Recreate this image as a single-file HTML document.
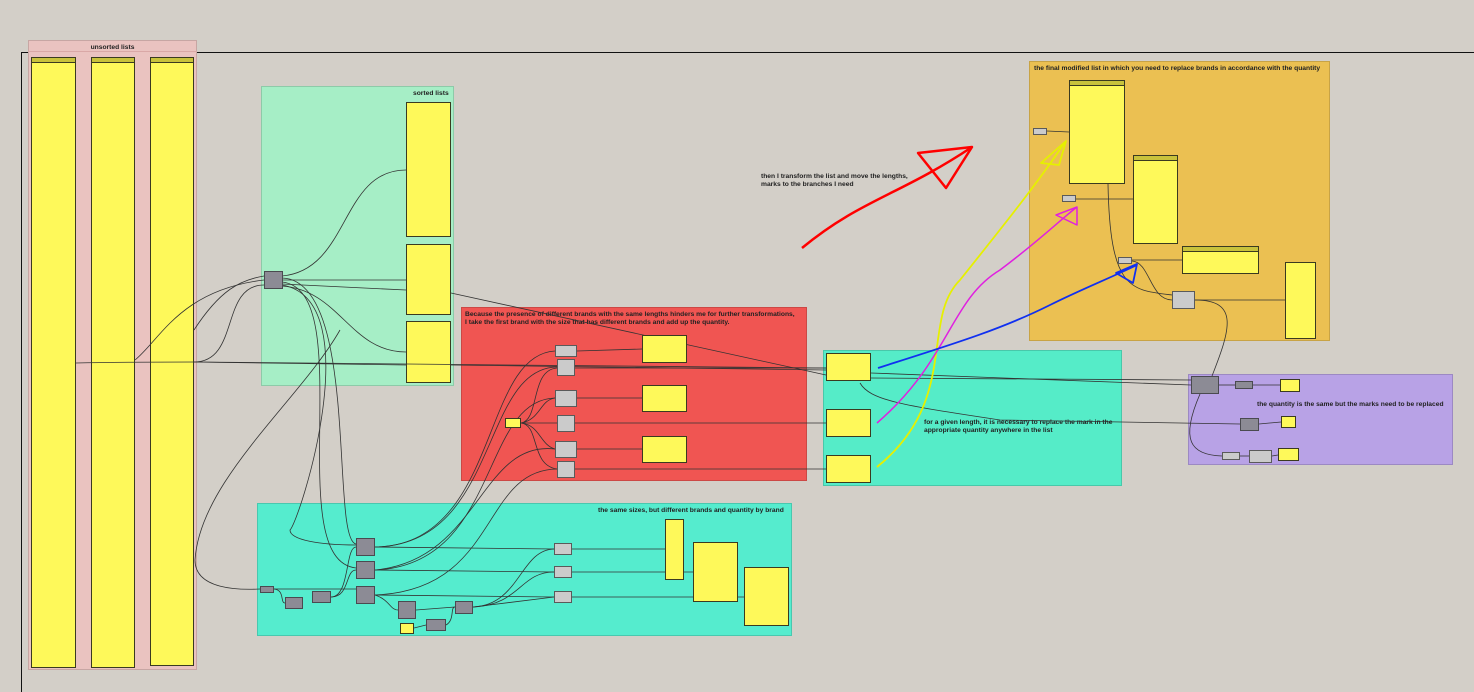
<!DOCTYPE html>
<html><head><meta charset="utf-8"><style>
body{margin:0;width:1474px;height:678px;background:#d3cfc8;position:relative;overflow:hidden;font-family:"Liberation Sans",sans-serif}
div{position:absolute;box-sizing:border-box}
.g{border:1px solid rgba(0,0,0,0.15)}
.y{background:#fef95a;border:1px solid #3a3a20}
.k{background:#8c8b95;border:1px solid #4a4a50}
.l{background:#cbcbcb;border:1px solid #5a5a5a}
.t{font-size:6.7px;font-weight:bold;color:#222;white-space:nowrap;line-height:8px}
.h{background:#c8c23c;border:1px solid #3a3a20}
svg{position:absolute;left:0;top:0}
</style></head><body>
<div style="left:21px;top:52px;width:1460px;height:640px;border-left:1px solid #111;border-top:1px solid #111"></div>

<div class="g" style="left:28px;top:40px;width:169px;height:630px;background:#eac3c0"></div>
<div style="left:28px;top:40px;width:169px;height:12px;border-bottom:1px solid #d9a8a6"></div>
<div class="t" style="left:28px;top:44px;width:169px;text-align:center">unsorted lists</div>
<div class="y" style="left:31px;top:57px;width:45px;height:611px"></div><div class="h" style="left:31px;top:57px;width:45px;height:6px"></div>
<div class="y" style="left:91px;top:57px;width:44px;height:611px"></div><div class="h" style="left:91px;top:57px;width:44px;height:6px"></div>
<div class="y" style="left:150px;top:57px;width:44px;height:609px"></div><div class="h" style="left:150px;top:57px;width:44px;height:6px"></div>

<div class="g" style="left:261px;top:86px;width:193px;height:300px;background:#a6eec6"></div>
<div class="t" style="left:413px;top:90px">sorted lists</div>
<div class="y" style="left:406px;top:102px;width:45px;height:135px"></div>
<div class="y" style="left:406px;top:244px;width:45px;height:71px"></div>
<div class="y" style="left:406px;top:321px;width:45px;height:62px"></div>

<div class="g" style="left:461px;top:307px;width:346px;height:174px;background:#f05552"></div>
<div class="t" style="left:465px;top:311px">Because the presence of different brands with the same lengths hinders me for further transformations,<br>I take the first brand with the size that has different brands and add up the quantity.</div>

<div class="g" style="left:257px;top:503px;width:535px;height:133px;background:#55ecce"></div>
<div class="t" style="left:598px;top:507px">the same sizes, but different brands and quantity by brand</div>

<div class="g" style="left:823px;top:350px;width:299px;height:136px;background:#55ecc8"></div>
<div class="t" style="left:924px;top:419px">for a given length, it is necessary to replace the mark in the<br>appropriate quantity anywhere in the list</div>

<div class="g" style="left:1029px;top:61px;width:301px;height:280px;background:#ebc052"></div>
<div class="t" style="left:1034px;top:65px">the final modified list in which you need to replace brands in accordance with the quantity</div>

<div class="g" style="left:1188px;top:374px;width:265px;height:91px;background:#b8a2e6"></div>
<div class="t" style="left:1257px;top:401px">the quantity is the same but the marks need to be replaced</div>

<div class="t" style="left:761px;top:173px">then I transform the list and move the lengths,<br>marks to the branches I need</div>

<svg width="1474" height="678" viewBox="0 0 1474 678">
<g fill="none" stroke="#333" stroke-width="0.8">
<path d="M282,276 C350,270 340,170 406,170"/>
<path d="M282,280 L406,280"/><path d="M282,284 L406,290"/>
<path d="M282,286 C340,290 350,352 406,352"/>
<path d="M76,363 C120,362 150,362 194,362 L406,365"/>
<path d="M135,360 C160,340 180,290 264,280"/>
<path d="M194,330 C220,290 240,280 264,276"/>
<path d="M194,362 C240,362 220,285 264,285"/>
<path d="M194,362 L826,368"/>
<path d="M451,293 L826,375"/>
<path d="M451,365 L826,370"/>
<path d="M282,278 C360,280 330,540 356,544"/>
<path d="M282,282 C360,290 280,560 356,568"/>
<path d="M282,285 C370,300 300,520 290,530 C290,540 320,545 356,545"/>
<path d="M340,330 C300,400 200,480 195,560 C195,590 240,590 260,589"/>
<path d="M375,547 C500,545 480,355 555,351"/><path d="M375,547 C500,545 480,368 557,367"/>
<path d="M375,570 C500,565 480,400 555,398"/><path d="M375,570 C480,560 480,440 555,449"/>
<path d="M375,595 C500,590 480,470 557,469"/>
<path d="M375,547 L554,549"/><path d="M375,570 L554,572"/><path d="M375,595 L554,597"/>
<path d="M274,589 L356,589"/><path d="M274,589 C285,590 280,603 285,603"/>
<path d="M331,597 C350,597 345,547 356,547"/><path d="M331,597 C350,597 345,570 356,570"/>
<path d="M375,595 C390,600 390,610 398,610"/><path d="M416,610 L455,607"/>
<path d="M414,628 L426,625"/><path d="M446,625 C455,620 450,607 455,607"/>
<path d="M473,607 C520,605 520,550 554,549"/><path d="M473,607 C520,605 520,572 554,572"/><path d="M473,607 L554,597"/>
<path d="M572,549 L665,549"/><path d="M572,572 L693,572"/><path d="M572,597 L744,597"/>
<path d="M577,351 L642,349"/><path d="M577,398 L642,398"/><path d="M577,449 L642,449"/>
<path d="M521,423 C540,420 530,370 557,368"/><path d="M521,423 L557,423"/><path d="M521,423 C540,425 530,465 557,469"/><path d="M521,423 C540,420 540,400 555,398"/><path d="M521,423 C540,425 540,445 555,449"/>
<path d="M575,368 L826,368"/><path d="M575,423 L826,423"/><path d="M575,469 L826,469"/>
<path d="M871,378 L1191,380"/><path d="M871,373 L1191,385"/>
<path d="M860,383 C870,400 900,405 1000,420 L1240,424"/>
<path d="M1219,385 L1235,385"/><path d="M1253,385 L1280,385"/><path d="M1259,424 L1281,422"/>
<path d="M1200,394 C1180,440 1190,455 1222,456"/><path d="M1240,456 L1249,456"/><path d="M1272,456 L1278,455"/>
<path d="M1047,131 L1069,132"/><path d="M1076,199 L1133,199"/><path d="M1132,260 L1182,260"/>
<path d="M1108,184 C1110,290 1130,290 1172,295"/><path d="M1132,261 C1150,262 1150,300 1172,300"/>
<path d="M1195,300 L1285,300"/><path d="M1195,300 C1240,300 1230,330 1212,376"/>
</g>
<g fill="none" stroke-width="2.5" stroke-linejoin="round">
<path d="M802,248 C860,200 900,195 972,147" stroke="#f00"/>
<path d="M918,153 L972,147 L946,188 Z" stroke="#f00"/>
<path d="M877,467 C960,400 920,320 960,280 C1000,230 1040,180 1065,142" stroke="#e6f000" stroke-width="1.8"/>
<path d="M1041,163 L1066,141 L1059,165 Z" stroke="#e6f000" stroke-width="1.8"/>
<path d="M877,423 C950,360 950,300 1000,270 C1040,240 1060,220 1077,207" stroke="#e020e0" stroke-width="1.5"/>
<path d="M1056,215 L1077,207 L1077,225 Z" stroke="#e020e0" stroke-width="1.5"/>
<path d="M878,368 C950,345 1000,330 1050,305 C1080,290 1110,278 1137,265" stroke="#1030f0" stroke-width="1.8"/>
<path d="M1116,273 L1137,264 L1133,283 Z" stroke="#1030f0" stroke-width="1.8"/>
</g>
</svg>

<div class="k" style="left:264px;top:271px;width:19px;height:18px"></div>

<div class="l" style="left:555px;top:345px;width:22px;height:12px"></div>
<div class="l" style="left:557px;top:359px;width:18px;height:17px"></div>
<div class="l" style="left:555px;top:390px;width:22px;height:17px"></div>
<div class="l" style="left:557px;top:415px;width:18px;height:17px"></div>
<div class="l" style="left:555px;top:441px;width:22px;height:17px"></div>
<div class="l" style="left:557px;top:461px;width:18px;height:17px"></div>
<div class="y" style="left:642px;top:335px;width:45px;height:28px"></div>
<div class="y" style="left:642px;top:385px;width:45px;height:27px"></div>
<div class="y" style="left:642px;top:436px;width:45px;height:27px"></div>
<div class="y" style="left:505px;top:418px;width:16px;height:10px"></div>

<div class="k" style="left:260px;top:586px;width:14px;height:7px"></div>
<div class="k" style="left:285px;top:597px;width:18px;height:12px"></div>
<div class="k" style="left:312px;top:591px;width:19px;height:12px"></div>
<div class="k" style="left:356px;top:538px;width:19px;height:18px"></div>
<div class="k" style="left:356px;top:561px;width:19px;height:18px"></div>
<div class="k" style="left:356px;top:586px;width:19px;height:18px"></div>
<div class="k" style="left:398px;top:601px;width:18px;height:18px"></div>
<div class="y" style="left:400px;top:623px;width:14px;height:11px"></div>
<div class="k" style="left:426px;top:619px;width:20px;height:12px"></div>
<div class="k" style="left:455px;top:601px;width:18px;height:13px"></div>
<div class="l" style="left:554px;top:543px;width:18px;height:12px"></div>
<div class="l" style="left:554px;top:566px;width:18px;height:12px"></div>
<div class="l" style="left:554px;top:591px;width:18px;height:12px"></div>
<div class="y" style="left:665px;top:519px;width:19px;height:61px"></div>
<div class="y" style="left:693px;top:542px;width:45px;height:60px"></div>
<div class="y" style="left:744px;top:567px;width:45px;height:59px"></div>

<div class="y" style="left:826px;top:353px;width:45px;height:28px"></div>
<div class="y" style="left:826px;top:409px;width:45px;height:28px"></div>
<div class="y" style="left:826px;top:455px;width:45px;height:28px"></div>

<div class="y" style="left:1069px;top:80px;width:56px;height:104px"></div><div class="h" style="left:1069px;top:80px;width:56px;height:6px"></div>
<div class="y" style="left:1133px;top:155px;width:45px;height:89px"></div><div class="h" style="left:1133px;top:155px;width:45px;height:6px"></div>
<div class="y" style="left:1182px;top:246px;width:77px;height:28px"></div><div class="h" style="left:1182px;top:246px;width:77px;height:6px"></div>
<div class="y" style="left:1285px;top:262px;width:31px;height:77px"></div>
<div class="l" style="left:1033px;top:128px;width:14px;height:7px"></div>
<div class="l" style="left:1062px;top:195px;width:14px;height:7px"></div>
<div class="l" style="left:1118px;top:257px;width:14px;height:7px"></div>
<div class="l" style="left:1172px;top:291px;width:23px;height:18px"></div>

<div class="k" style="left:1191px;top:376px;width:28px;height:18px"></div>
<div class="k" style="left:1235px;top:381px;width:18px;height:8px"></div>
<div class="y" style="left:1280px;top:379px;width:20px;height:13px"></div>
<div class="k" style="left:1240px;top:418px;width:19px;height:13px"></div>
<div class="y" style="left:1281px;top:416px;width:15px;height:12px"></div>
<div class="l" style="left:1222px;top:452px;width:18px;height:8px"></div>
<div class="l" style="left:1249px;top:450px;width:23px;height:13px"></div>
<div class="y" style="left:1278px;top:448px;width:21px;height:13px"></div>
</body></html>
